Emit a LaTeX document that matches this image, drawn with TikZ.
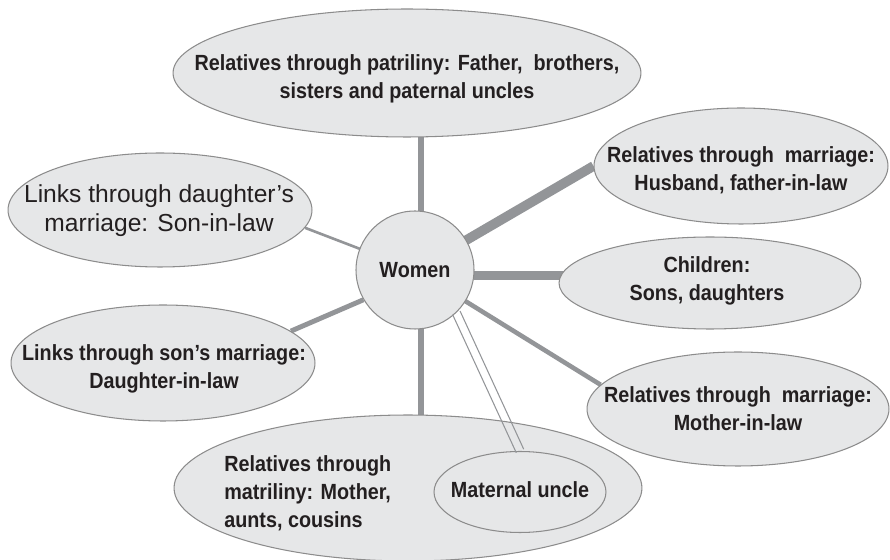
\documentclass[tikz,border=0pt]{standalone}
\usepackage{fontspec}
\setmainfont{Liberation Sans}
\newfontfamily\narrowsf{Liberation Sans}[FakeStretch=0.9]
\usetikzlibrary{shapes.geometric,backgrounds}
\definecolor{bubblefill}{HTML}{E6E7E8}
\definecolor{bubbleline}{HTML}{8C8C8C}
\definecolor{linkgray}{HTML}{939598}
\definecolor{ink}{HTML}{231F20}
\begin{document}
\begin{tikzpicture}[x=0.02cm,y=-0.02cm,
		bubble/.style 2 args={ellipse,draw=bubbleline,fill=bubblefill,line width=0.6pt,inner sep=0pt,minimum width=#1,minimum height=#2},
		words/.style={align=center,text=ink,inner sep=0pt,font=\narrowsf\bfseries\fontsize{12.5}{16}\selectfont},
		link/.style={draw=linkgray,line width=#1},
		kinline/.style={draw=linkgray,line width=0.6pt}]
	\useasboundingbox (0,0) rectangle (890,560);
	\node[bubble={9.36cm}{2.56cm}] (patri) at (407,73) {};
	\node[words] (patritext) at (407,79) {Relatives through patriliny: Father,\ \ brothers,\\sisters and paternal uncles};
	\node[bubble={2.36cm}{2.36cm},circle] (women) at (415,270) {};
	\node[words] (womentext) at (women) {Women};
	\node[bubble={5.88cm}{2.32cm}] (husband) at (741,166) {};
	\node[words] (husbandtext) at (741,170) {Relatives through\ \ marriage:\\Husband, father-in-law};
	\node[bubble={6.04cm}{1.84cm}] (kids) at (710,283) {};
	\node[words] (kidstext) at (707,281) {Children:\\Sons, daughters};
	\node[bubble={6.04cm}{2.28cm}] (mil) at (738,409) {};
	\node[words] (miltext) at (738,409) {Relatives through\ \ marriage:\\Mother-in-law};
	\node[bubble={6.08cm}{2.28cm}] (sil) at (160,210) {};
	\node[words,font=\fontsize{14}{16.5}\selectfont] (siltext) at (159,210.5) {Links through daughter’s\\marriage: Son-in-law};
	\node[bubble={6.08cm}{2.32cm}] (dil) at (163,363) {};
	\node[words] (diltext) at (164,368.5) {Links through son’s marriage:\\Daughter-in-law};
	\node[bubble={9.36cm}{2.92cm}] (matri) at (408,488) {};
	\node[words,align=left,anchor=west] (matritext) at (224,493) {Relatives through\\matriliny: Mother,\\aunts, cousins};
	\node[bubble={3.44cm}{1.62cm}] (uncle) at (520,492) {};
	\node[words] (uncletext) at (520,490) {Maternal uncle};
	\begin{scope}[on background layer]
		\draw[link=3.2pt] (women.84) -- (women.84 |- patri.center);
		\draw[link=5.5pt] (women.center) -- (husband.west);
		\draw[link=5pt] (women.-5) -- (women.-5 -| kids.center);
		\draw[link=2.6pt] (women.center) -- (mil.170);
		\draw[link=1.5pt] (women.center) -- (sil.-7);
		\draw[link=2.8pt] (women.210) -- (dil.14);
		\draw[link=3.2pt] (women.-84) -- (women.-84 |- matri.center);
	\end{scope}
	\draw[kinline,transform canvas={shift={(2.12pt,1pt)}}] (women.-46) -- (uncle.north);
	\draw[kinline,transform canvas={shift={(-2.12pt,-1pt)}}] (women.-46) -- (uncle.north);
\end{tikzpicture}
\end{document}
